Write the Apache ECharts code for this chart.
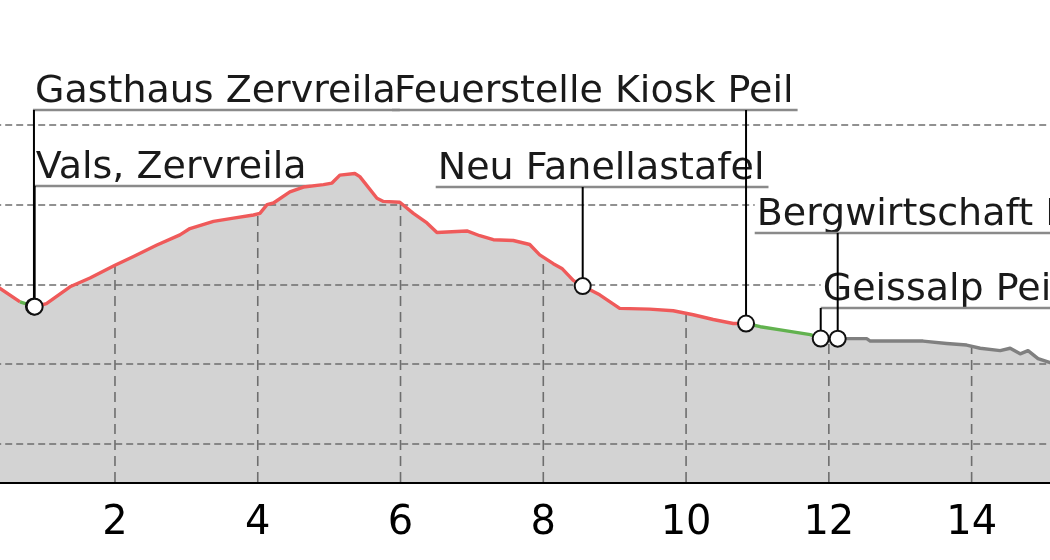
<!DOCTYPE html>
<html><head><meta charset="utf-8">
<script src="https://cdn.jsdelivr.net/npm/echarts@6/dist/echarts.min.js"></script>
<style>html,body{margin:0;padding:0;background:#fff}#c{width:1050px;height:560px}</style>
</head><body><div id="c"></div>
<script>
// ---- data ----
const distanceKm = [0.30,0.39,0.67,0.88,1.04,1.37,1.65,2.00,2.26,2.58,2.91,3.05,3.38,3.66,3.94,4.03,4.13,4.22,4.45,4.64,4.92,5.04,5.15,5.36,5.43,5.67,5.76,5.99,6.18,6.37,6.51,6.93,7.11,7.30,7.58,7.81,7.95,8.14,8.26,8.42,8.55,8.79,9.07,9.49,9.82,10.10,10.38,10.66,10.84,11.04,11.32,11.74,11.89,12.12,12.53,12.58,13.32,13.65,13.93,14.12,14.40,14.54,14.68,14.79,14.93,15.10,15.30];
const elevationM = [2000,1995,1978,1972,1976,1997,2008,2024,2035,2049,2062,2070,2079,2083,2087,2089,2100,2102,2116,2122,2125,2127,2137,2139,2135,2108,2104,2103,2089,2077,2065,2067,2061,2056,2055,2050,2037,2026,2020,2005,1998,1987,1970,1969,1967,1962,1956,1951,1951,1947,1943,1937,1932,1932,1932,1929,1929,1926,1924,1920,1917,1920,1913,1917,1907,1902,1896];
const segmentStartKm = [0.30, 0.67, 0.88, 10.84, 11.89];
const segmentKind = ['red', 'green', 'red', 'green', 'grey'];
const poiNames = ['Feuerstelle Kiosk Peil', 'Gasthaus Zervreila', 'Vals, Zervreila', 'Neu Fanellastafel', 'Geissalp Peil', 'Bergwirtschaft Peil'];
const poiKm = [10.84, 0.865, 0.875, 8.552, 11.886, 12.124];
const xTickKm = [2, 4, 6, 8, 10, 12, 14];
const yGridM = [1800, 1900, 2000, 2100, 2200];

// ---- layout / style ----
const labelLineY = [110, 110, 186, 187, 308, 233];
const labelDx = [-354, -1, -1, -147, 0, -83];
const kindColor = {red: '#ef5a5a', green: '#62b24f', grey: '#808080'};
const Y_MIN = 1752.4, Y_MAX = 2300;
const LABEL_FONT = '38px "DejaVu Sans"';

function elevAt(k) {
  for (let i = 1; i < distanceKm.length; i++) {
    if (k <= distanceKm[i]) {
      const t = (k - distanceKm[i - 1]) / (distanceKm[i] - distanceKm[i - 1]);
      return elevationM[i - 1] + t * (elevationM[i] - elevationM[i - 1]);
    }
  }
  return elevationM[elevationM.length - 1];
}
const mctx = document.createElement('canvas').getContext('2d');
mctx.font = LABEL_FONT;
function textW(s) { return mctx.measureText(s).width; }

const profile = distanceKm.map((k, i) => [k, elevationM[i]]);
const segSeries = segmentStartKm.map((start, s) => {
  const end = s + 1 < segmentStartKm.length ? segmentStartKm[s + 1] : Infinity;
  return {
    type: 'line', z: 10, silent: true, showSymbol: false, symbol: 'none',
    data: profile.filter(p => p[0] >= start - 1e-9 && p[0] <= end + 1e-9),
    lineStyle: {color: kindColor[segmentKind[s]], width: 3.4, join: 'round'}
  };
});

const chart = echarts.init(document.getElementById('c'), null, {renderer: 'canvas'});
chart.setOption({
  animation: false,
  backgroundColor: '#ffffff',
  grid: {left: -27.8, right: -64.4, top: 45, bottom: 78, containLabel: false, outerBoundsMode: 'none'},
  xAxis: {
    type: 'value', min: 0, max: 16, interval: 2,
    axisLine: {show: true, onZero: false, lineStyle: {color: '#000', width: 3}},
    axisTick: {show: false},
    splitLine: {show: false},
    axisLabel: {color: '#000', fontSize: 40, fontFamily: 'DejaVu Sans', margin: 22, lineHeight: 40}
  },
  yAxis: {
    type: 'value', min: Y_MIN, max: Y_MAX, show: false,
    splitLine: {show: false}
  },
  series: [
    {
      type: 'line', z: 1, silent: true, showSymbol: false, symbol: 'none',
      data: profile,
      lineStyle: {width: 0, opacity: 0},
      areaStyle: {color: '#d3d3d3', opacity: 1, origin: 'start'},
      markLine: {
        silent: true, z: 3, animation: false, symbol: ['none', 'none'],
        label: {show: false},
        lineStyle: {color: '#6e6e6e', width: 1.6, type: [7, 4]},
        emphasis: {disabled: true},
        data: yGridM.map(v => ({yAxis: v}))
      }
    },
    {
      type: 'custom', z: 3, silent: true,
      data: xTickKm.map(k => [k, elevAt(k)]),
      encode: {x: 0, y: 1},
      renderItem: function (params, api) {
        const top = api.coord([api.value(0), api.value(1)]);
        const bot = api.coord([api.value(0), Y_MIN]);
        return {type: 'line', shape: {x1: top[0], y1: bot[1], x2: top[0], y2: top[1]},
          style: {stroke: '#6e6e6e', lineWidth: 1.6, lineDash: [10, 6]}};
      }
    },
    ...segSeries,
    {
      type: 'custom', z: 8, silent: true,
      data: poiKm.map((k, i) => [k, elevAt(k), i]),
      encode: {x: 0, y: 1},
      renderItem: function (params, api) {
        const i = api.value(2);
        const p = api.coord([api.value(0), api.value(1)]);
        const lx = p[0] + labelDx[i];
        const ly = labelLineY[i];
        const w = textW(poiNames[i]) + 6;
        return {type: 'group', children: [
          {type: 'rect', z2: 1, shape: {x: lx, y: ly - 36, width: w, height: 36}, style: {fill: '#ffffff'}},
          {type: 'text', z2: 2, x: lx + 2, y: ly + 1,
            style: {text: poiNames[i], font: LABEL_FONT, fill: '#1a1a1a', align: 'left', verticalAlign: 'bottom', lineHeight: 38}},
          {type: 'line', z2: 3, shape: {x1: lx, y1: ly, x2: lx + w, y2: ly}, style: {stroke: '#8a8a8a', lineWidth: 2.5}}
        ]};
      }
    },
    {
      type: 'custom', z: 12, silent: true,
      data: poiKm.map((k, i) => [k, elevAt(k), i]),
      encode: {x: 0, y: 1},
      renderItem: function (params, api) {
        const i = api.value(2);
        const p = api.coord([api.value(0), api.value(1)]);
        return {type: 'group', children: [
          {type: 'line', z2: 1, shape: {x1: p[0], y1: labelLineY[i], x2: p[0], y2: p[1]}, style: {stroke: '#000', lineWidth: 2}},
          {type: 'circle', z2: 2, shape: {cx: p[0], cy: p[1], r: 8}, style: {fill: '#fff', stroke: '#111', lineWidth: 2}}
        ]};
      }
    }
  ]
});
</script></body></html>
